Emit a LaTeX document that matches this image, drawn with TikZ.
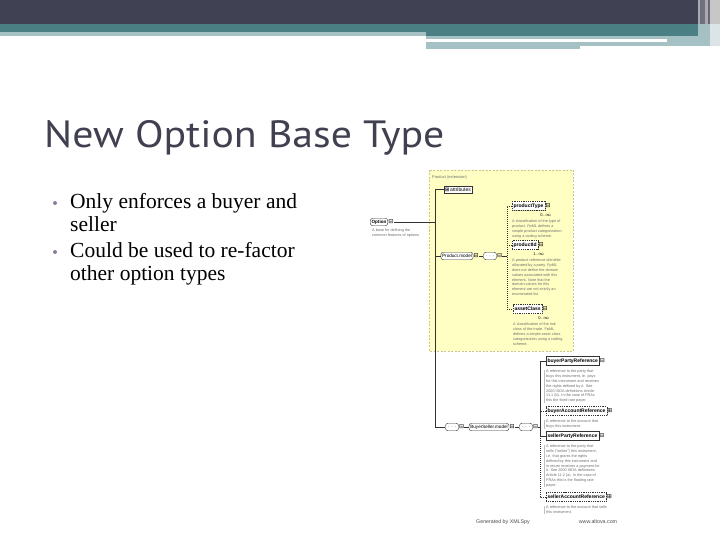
\documentclass[tikz,border=0pt]{standalone}
\usepackage{fontspec}
\setmainfont{Liberation Serif}
\newfontfamily\titlefont{PT Sans}
\newfontfamily\schemafont{Liberation Sans}
\newfontfamily\symbfont{DejaVu Sans}
\usetikzlibrary{shadows}
\definecolor{headdark}{HTML}{414154}
\definecolor{headteal}{HTML}{4A8084}
\definecolor{headlight}{HTML}{A6C1C4}
\definecolor{titlecol}{HTML}{404050}
\definecolor{bulletcol}{HTML}{8E7CA0}
\definecolor{schemafill}{HTML}{FFFFC4}
\definecolor{schemaline}{HTML}{C8C88C}
\definecolor{desccol}{HTML}{6E6E6E}

\begin{document}
\begin{tikzpicture}[x=1pt, y=-1pt,
    elem/.style={rectangle, draw=black!80, fill=white, font=\schemafont\bfseries\fontsize{5}{6}\selectfont, inner sep=1.4pt, minimum height=9pt, drop shadow={shadow xshift=0.8pt, shadow yshift=-0.8pt, opacity=0.45}},
    optelem/.style={elem, dash pattern=on 1pt off 0.8pt},
    model/.style={rectangle, rounded corners=2.5pt, draw=black!80, fill=white, font=\schemafont\fontsize{4.6}{5}\selectfont, inner sep=1.3pt, minimum height=7.5pt},
    seqbox/.style={model, minimum width=13pt},
    icon/.style={font=\symbfont\fontsize{6}{6}\selectfont, inner sep=0pt, label distance=0.2pt},
    desc/.style={anchor=north west, align=left, text=desccol, font=\schemafont\fontsize{3.8}{4.8}\selectfont, inner sep=0pt},
    mult/.style={font=\schemafont\fontsize{4}{4}\selectfont, inner sep=0pt},
    bullet/.style={circle, fill=bulletcol, minimum size=4pt, inner sep=0pt},
    bullettext/.style={anchor=base west, font=\fontsize{21.5}{24}\selectfont, inner sep=0pt},
    tree_link/.style={draw=black!80, line width=0.5pt}, % collegamenti dello schema
    opt_link/.style={tree_link, dash pattern=on 1pt off 1pt}
]
\useasboundingbox (0,0) rectangle (720,540);

% testata
\fill[headdark] (0,0) rectangle (698,24);
\fill[headteal] (0,24) rectangle (698,32);
\fill[headteal] (426,32) rectangle (698,36);
\fill[headlight] (0,32) rectangle (426,36);
\fill[headlight] (426,36) rectangle (667,39);
\fill[headlight] (667,36) rectangle (708,46);
\fill[headlight] (426,42) rectangle (708,46);
\fill[headlight] (426,46) rectangle (580,49);
\fill[headdark!45!white] (698,0) rectangle (720,24);
\fill[headdark!75!white] (700,0) rectangle (705,24);
\fill[headdark!80!white] (708,0) rectangle (710,24);
\fill[black!22] (710,0) rectangle (720,24);
\fill[headteal!50!white] (698,24) rectangle (720,36);
\fill[headteal!20!white] (710,24) rectangle (720,46);
\fill[headlight] (708,36) rectangle (710,46);

\node[anchor=base west, font=\titlefont\fontsize{38}{38}\selectfont, text=titlecol, inner sep=0pt, xscale=1.1] (title) at (44,148) {New Option Base Type};

\node[bullet] (b1) at (55,203) {};
\node[bullettext] (l1) at (70,208) {Only enforces a buyer and};
\node[bullettext] (l2) at (70,231) {seller};
\node[bullet] (b2) at (55,252) {};
\node[bullettext] (l3) at (70,257) {Could be used to re-factor};
\node[bullettext] (l4) at (70,280) {other option types};

% schema
\filldraw[fill=schemafill, draw=schemaline, dash pattern=on 2pt off 1.5pt] (429,170) rectangle (573,351);
\node[anchor=west, inner sep=0pt, text=desccol, font=\schemafont\fontsize{4}{4}\selectfont] (ext) at (432,177) {Product (extension)};

\coordinate (trunk) at (435,0);
\coordinate (branch) at (507,0);
\coordinate (refs) at (540,0);

\node[model, label={[icon, name=opticon]east:⊟}] (option) at (379,222) {\bfseries Option};
\node[desc] (optdesc) at (372,229) {A base for defining the\\common features of options};

\node[elem, drop shadow={opacity=0}, minimum height=6.5pt] (attr) at (458,189.5) {{\symbfont\fontsize{5}{5}\selectfont ⊞}\,\mdseries attributes};
\node[model, label={[icon, name=pmicon]east:⊟}] (pmodel) at (457,256) {Product.model};
\node[seqbox, label={[icon, name=seq1icon]east:⊟}] (seq1) at (490,256) {$\cdots$};

\node[optelem, anchor=west, label={[icon, name=pticon]east:⊟}] (ptype) at (512,206) {productType};
\node[mult] (ptmult) at (546,215.5) {0..$\infty$};
\node[desc] (ptdesc) at (512,220) {A classification of the type of\\product. FpML defines a\\simple product categorization\\using a coding scheme.};

\node[optelem, anchor=west, label={[icon, name=piicon]east:⊟}] (pid) at (512,245) {productId};
\node[mult] (pimult) at (539,254.5) {1..$\infty$};
\node[desc] (pidesc) at (512,259) {A product reference identifier\\allocated by a party. FpML\\does not define the domain\\values associated with this\\element. Note that the\\domain values for this\\element are not strictly an\\enumerated list.};

\node[optelem, anchor=west, label={[icon, name=acicon]east:⊟}] (aclass) at (513,309) {assetClass};
\node[mult] (acmult) at (544,318.5) {0..$\infty$};
\node[desc] (acdesc) at (513,323) {A classification of the risk\\class of the trade. FpML\\defines a simple asset class\\categorization using a coding\\scheme.};

\node[seqbox, label={[icon, name=seq2icon]east:⊟}] (seq2) at (452,427) {$\cdots$};
\node[model, label={[icon, name=bsicon]east:⊟}] (bsmodel) at (489,427) {BuyerSeller.model};
\node[seqbox, label={[icon, name=seq3icon]east:⊟}] (seq3) at (526,427) {$\cdots$};

\node[elem, anchor=west, label={[icon, name=bpicon]east:⊟}] (bpref) at (546,361) {buyerPartyReference};
\node[desc] (bpdesc) at (546,370) {A reference to the party that\\buys this instrument, ie. pays\\for this instrument and receives\\the rights defined by it. See\\2000 ISDA definitions Article\\11.1 (b). In the case of FRAs\\this the fixed rate payer.};
\node[optelem, anchor=west, label={[icon, name=baicon]east:⊞}] (baref) at (546,411) {buyerAccountReference};
\node[desc] (badesc) at (546,420) {A reference to the account that\\buys this instrument.};
\node[elem, anchor=west, label={[icon, name=spicon]east:⊟}] (spref) at (546,436) {sellerPartyReference};
\node[desc] (spdesc) at (546,445) {A reference to the party that\\sells ("writes") this instrument,\\i.e. that grants the rights\\defined by this instrument and\\in return receives a payment for\\it. See 2000 ISDA definitions\\Article 11.2 (a). In the case of\\FRAs this is the floating rate\\payer.};
\node[optelem, anchor=west, label={[icon, name=saicon]east:⊞}] (saref) at (546,497) {sellerAccountReference};
\node[desc] (sadesc) at (546,506) {A reference to the account that sells\\this instrument.};

\node[mult, font=\schemafont\fontsize{5.3}{6}\selectfont, text=black!70] (gen) at (503,522) {Generated by XMLSpy};
\node[mult, font=\schemafont\fontsize{5.3}{6}\selectfont, text=black!70] (altova) at (598,522) {www.altova.com};

% collegamenti
\draw[tree_link] (opticon.east) -- (opticon.east -| trunk);
\draw[tree_link] (attr.west) -- (attr.west -| trunk) |- (seq2.west);
\draw[tree_link] (pmodel.west) -- (pmodel.west -| trunk);
\draw[tree_link] (pmicon.east) -- (seq1.west);
\draw[tree_link] (seq1icon.east) -- (seq1icon.east -| branch);
\draw[opt_link] (ptype.west) -- (ptype.west -| branch) |- (aclass.west);
\draw[opt_link] (pid.west) -- (pid.west -| branch);
\draw[tree_link] (seq2icon.east) -- (bsmodel.west);
\draw[tree_link] (bsicon.east) -- (seq3.west);
\draw[tree_link] (seq3icon.east) -- (seq3icon.east -| refs);
\draw[tree_link] (bpref.west) -- (bpref.west -| refs) |- (spref.west);
\draw[opt_link] (baref.west) -- (baref.west -| refs);
\draw[opt_link] (spref.west -| refs) |- (saref.west);
\foreach \d in {bpdesc, badesc, spdesc, sadesc}
  \draw[black!25, line width=0.3pt] ([xshift=-2pt]\d.north west) -- ([xshift=-2pt]\d.south west);
\end{tikzpicture}
\end{document}
